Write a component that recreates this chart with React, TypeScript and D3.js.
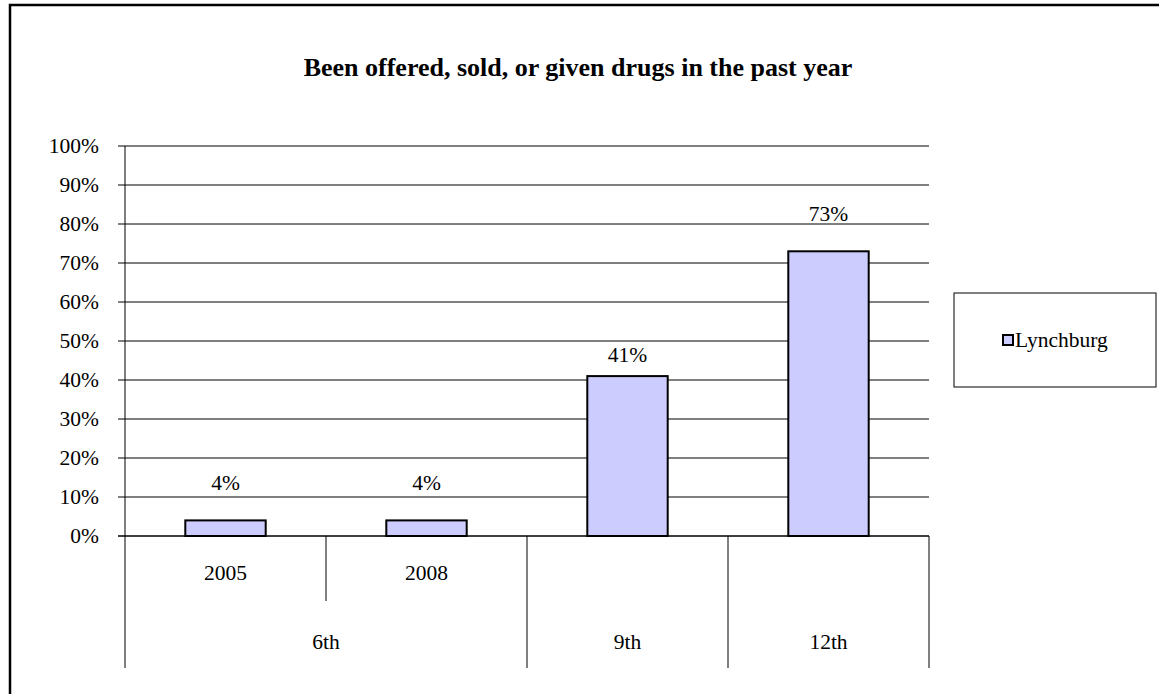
import React from "react";
import * as d3 from "d3";

const title = "Been offered, sold, or given drugs in the past year";
const seriesName = "Lynchburg";
const categoryKeys = ["6th-2005", "6th-2008", "9th", "12th"];
const subLabels = ["2005", "2008", "", ""];
const groupLabels = ["6th", "6th", "9th", "12th"];
const values = [4, 4, 41, 73];
const yTicks = [0, 10, 20, 30, 40, 50, 60, 70, 80, 90, 100];

const W = 1159;
const H = 694;
const FONT = "'Liberation Serif', 'Times New Roman', serif";
// vertical gap between bar top and label centre (reference places the 41% label lower)
const labelGap = [37, 37, 21, 37];

export default function App() {
  const left = 125, right = 929, top = 146, bottom = 536;
  const x = d3.scaleBand<string>().domain(categoryKeys).range([left, right]).padding(0);
  const y = d3.scaleLinear().domain([0, 100]).range([bottom, top]);
  const bw = x.bandwidth();
  const barW = bw * 0.4;

  const groups: { label: string; start: number; end: number }[] = [];
  groupLabels.forEach((g, i) => {
    const last = groups[groups.length - 1];
    const x0 = x(categoryKeys[i])!;
    if (last && last.label === g) {
      last.end = x0 + bw;
    } else {
      groups.push({ label: g, start: x0, end: x0 + bw });
    }
  });

  const subLineBottom = 601;
  const groupLineBottom = 668;

  return (
    <svg width={W} height={H} style={{ position: "absolute", left: 0, top: 0, background: "#fff" }} fontFamily={FONT}>
      <rect x={0} y={0} width={W} height={H} fill="#fff" />
      <rect x={10} y={5} width={1170} height={720} fill="none" stroke="#000" strokeWidth={2.5} />
      <text x={578} y={67} textAnchor="middle" dominantBaseline="central" fontWeight="bold" fontSize={26} fill="#000">
        {title}
      </text>
      {yTicks.map((t) => (
        <g key={t}>
          <line x1={118} x2={right} y1={y(t)} y2={y(t)} stroke="#000" strokeWidth={1} />
          <text x={99} y={y(t)} textAnchor="end" dominantBaseline="central" fontSize={21.5} fill="#000">
            {t + "%"}
          </text>
        </g>
      ))}
      <line x1={left} x2={left} y1={top} y2={bottom} stroke="#000" strokeWidth={1} />
      {values.map((v, i) => {
        const cx = x(categoryKeys[i])! + bw / 2;
        return (
          <g key={i}>
            <rect x={cx - barW / 2} y={y(v)} width={barW} height={y(0) - y(v)} fill="#CCCCFF" stroke="#000" strokeWidth={2} />
            <text x={cx} y={y(v) - labelGap[i]} textAnchor="middle" dominantBaseline="central" fontSize={21.5} fill="#000">
              {v + "%"}
            </text>
          </g>
        );
      })}
      <line x1={118} x2={right} y1={bottom} y2={bottom} stroke="#000" strokeWidth={1} />
      {categoryKeys.map((k, i) => {
        const x0 = x(k)!;
        const isGroupStart = i === 0 || groupLabels[i] !== groupLabels[i - 1];
        return (
          <g key={k}>
            <line x1={x0} x2={x0} y1={bottom} y2={isGroupStart ? groupLineBottom : subLineBottom} stroke="#000" strokeWidth={1} />
            {subLabels[i] && (
              <text x={x0 + bw / 2} y={573} textAnchor="middle" dominantBaseline="central" fontSize={21.5} fill="#000">
                {subLabels[i]}
              </text>
            )}
          </g>
        );
      })}
      <line x1={right} x2={right} y1={bottom} y2={groupLineBottom} stroke="#000" strokeWidth={1} />
      {groups.map((g) => (
        <text key={g.label} x={(g.start + g.end) / 2} y={642} textAnchor="middle" dominantBaseline="central" fontSize={21.5} fill="#000">
          {g.label}
        </text>
      ))}
      <rect x={954} y={293} width={202} height={94} fill="#fff" stroke="#000" strokeWidth={1} />
      <rect x={1003} y={335} width={10} height={10} fill="#CCCCFF" stroke="#000" strokeWidth={2} />
      <text x={1015} y={340} dominantBaseline="central" fontSize={21.5} fill="#000">
        {seriesName}
      </text>
    </svg>
  );
}
